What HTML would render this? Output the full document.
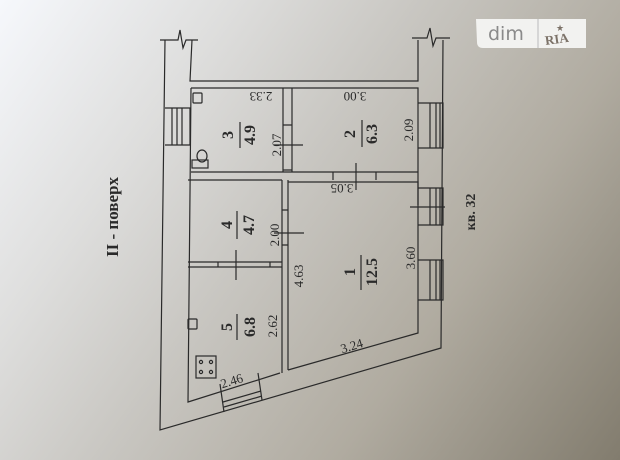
<!DOCTYPE html>
<html><head><meta charset="utf-8"><style>
html,body{margin:0;padding:0;}
body{width:620px;height:460px;overflow:hidden;background:linear-gradient(125deg,#f6f8fc 0%,#dededd 25%,#c8c6c1 45%,#b0aba0 70%,#827c6e 100%);position:relative;}
svg{position:absolute;left:0;top:0;}
text{font-family:"Liberation Serif",serif;fill:#2a2a2a;}
</style></head><body>
<svg width="620" height="460" viewBox="0 0 620 460" stroke="#2a2a2a" fill="none" stroke-width="1.2">
<path d="M165 40 L160 430 L441 348 L443 40"/>
<path d="M192 40 L190 81 L418 81 L418 40"/>
<path d="M160 40 L178 40 L180 30 L183 48 L186 40 L198 40"/>
<path d="M412 38 L427 38 L430 28 L433 46 L436 38 L450 38"/>
<path d="M191 88 L418 88 L418 205"/>
<path d="M191 88 L188 402 L280 373"/>
<path d="M283 88 L283 172 M292 88 L292 172 M191 172 L418 172"/>
<path d="M188 180 L282 180 M288 180 L288 182 L418 182 L418 333 L288 370 M282 180 L282 373 M288 182 L288 370"/>
<path d="M188 262 L282 262 M188 267 L282 267 M218 262 L218 267 M270 262 L270 267"/>
<path d="M283 125 L292 125 M283 170 L292 170 M282 210 L288 210 M282 245 L288 245"/>
<path d="M333 172 L333 180 M376 172 L376 180"/>
<path d="M274 145 L303 145 M356 163 L356 190 M274 233 L304 233 M236 250 L236 280 M410 207 L445 207"/>
<path d="M165 108 L190 108 L190 145 L165 145 M172 108 L172 145 M177 108 L177 145 M182 108 L182 145"/>
<path d="M418 103 L443 103 L443 148 L418 148 M430 103 L430 148 M436 103 L436 148 M440 103 L440 148"/>
<path d="M418 188 L443 188 L443 225 L418 225 M430 188 L430 225 M436 188 L436 225 M440 188 L440 225"/>
<path d="M418 260 L443 260 L443 300 L418 300 M430 260 L430 300 M436 260 L436 300 M440 260 L440 300"/>
<path d="M220 384 L224 412 M258 373 L262 400 M223 402 L261 391 M224 407 L262 396"/>
<rect x="193" y="93" width="9" height="10" rx="1"/>
<ellipse cx="202" cy="156" rx="5" ry="6"/><rect x="192" y="160" width="16" height="8"/>
<rect x="188" y="319" width="9" height="10" rx="1"/>
<rect x="196" y="356" width="20" height="22"/>
<circle cx="201" cy="362" r="1.6"/><circle cx="211" cy="362" r="1.6"/><circle cx="201" cy="372" r="1.6"/><circle cx="211" cy="372" r="1.6"/>
<path d="M240 122 L240 148 M362 120 L362 147 M237 211 L237 239 M361 255 L361 290 M237 314 L237 340"/>
</svg>
<svg width="620" height="460" viewBox="0 0 620 460">
<g font-size="16" font-weight="bold" text-anchor="middle">
<text transform="translate(233,135) rotate(-90)">3</text>
<text transform="translate(255,135) rotate(-90)">4.9</text>
<text transform="translate(355,134) rotate(-90)">2</text>
<text transform="translate(377,134) rotate(-90)">6.3</text>
<text transform="translate(232,225) rotate(-90)">4</text>
<text transform="translate(254,225) rotate(-90)">4.7</text>
<text transform="translate(232,327) rotate(-90)">5</text>
<text transform="translate(255,327) rotate(-90)">6.8</text>
<text transform="translate(355,272) rotate(-90)">1</text>
<text transform="translate(377,272) rotate(-90)">12.5</text>
</g>
<g font-size="13" text-anchor="middle">
<text transform="translate(261,92) rotate(180)">2.33</text>
<text transform="translate(355,92) rotate(180)">3.00</text>
<text transform="translate(342,184) rotate(180)">3.05</text>
<text transform="translate(281,145) rotate(-90)">2.07</text>
<text transform="translate(413,130) rotate(-90)">2.09</text>
<text transform="translate(279,235) rotate(-90)">2.00</text>
<text transform="translate(303,276) rotate(-90)">4.63</text>
<text transform="translate(415,258) rotate(-90)">3.60</text>
<text transform="translate(277,326) rotate(-90)">2.62</text>
<text transform="translate(353,350) rotate(-17)">3.24</text>
<text transform="translate(233,385) rotate(-17)">2.46</text>
</g>
<text transform="translate(118,217) rotate(-90)" font-size="17" font-weight="bold" text-anchor="middle">II - поверх</text>
<text transform="translate(475,212) rotate(-90)" font-size="14" font-weight="bold" text-anchor="middle">кв. 32</text>
<path d="M476 19 L586 19 L586 48 L483 48 Q477 48 477 42 Z" fill="#f2f2f0"/>
<line x1="538" y1="19" x2="538" y2="48" stroke="#bbb"/>
<text x="488" y="40" font-size="19" style="font-family:'DejaVu Sans',sans-serif;fill:#8a8a8a">dim</text>
<text x="545" y="43" font-size="13" font-weight="bold" style="fill:#7c7268" transform="rotate(-8 560 40)">RIA</text>
<text x="556" y="31" font-size="9" style="fill:#7c7268">★</text>
</svg>
</body></html>
